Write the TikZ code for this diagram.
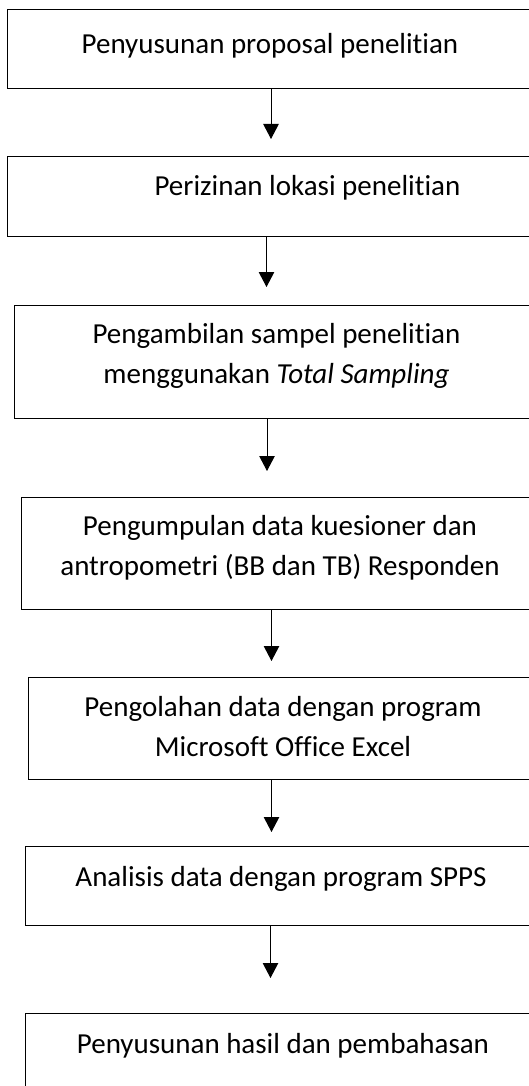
\documentclass[tikz,border=0pt]{standalone}
\usepackage{fontspec}
\setmainfont{Carlito}[Ligatures=CommonOff]
\usetikzlibrary{arrows.meta,positioning}

\begin{document}
\begin{tikzpicture}[x=1pt,y=-1pt,
    box/.style={draw, line width=1.2pt, anchor=north west, minimum width=700pt, inner sep=0pt},
    txt/.style={anchor=base, align=center, inner sep=0pt, font=\fontsize{29}{39.5}\selectfont},
    flow/.style={line width=1pt, -{Triangle[length=15pt,width=15.5pt]}}]
\useasboundingbox (0,0) rectangle (529,1086);
\clip (0,0) rectangle (529,1086);
% boxes
\node [box, minimum height=79pt] (b1) at (7,9) {};
\node [box, minimum height=80pt] (b2) at (7,156) {};
\node [box, minimum height=113pt] (b3) at (13.5,305) {};
\node [box, minimum height=112pt] (b4) at (21,497) {};
\node [box, minimum height=102pt] (b5) at (28,677) {};
\node [box, minimum height=79pt] (b6) at (25,846) {};
\node [box, minimum height=120pt] (b7) at (25,1013) {};
% texts (base = last line)
\node [txt] (t1) at (270,54) {Penyusunan proposal penelitian};
\node [txt] (t2) at (307.5,195) {Perizinan lokasi penelitian};
\node [txt] (t3) at (276.5,383) {Pengambilan sampel penelitian\\menggunakan \textit{Total Sampling}};
\node [txt] (t4) at (280,575) {Pengumpulan data kuesioner dan\\antropometri (BB dan TB) Responden};
\node [txt] (t5) at (283,756) {Pengolahan data dengan program\\Microsoft Office Excel};
\node [txt] (t6) at (281,886) {Analisis data dengan program SPPS};
\node [txt] (t7) at (283,1053) {Penyusunan hasil dan pembahasan};
% arrows
\coordinate (c1) at (271,0);
\coordinate (c2) at (266.5,0);
\coordinate (c3) at (267,0);
\coordinate (c4) at (271.5,0);
\coordinate (c5) at (271.5,0);
\coordinate (c6) at (270.5,0);
\draw [flow, shorten >=17pt] (b1.south -| c1) -- (b2.north -| c1);
\draw [flow, shorten >=18pt] (b2.south -| c2) -- (b3.north -| c2);
\draw [flow, shorten >=26pt] (b3.south -| c3) -- (b4.north -| c3);
\draw [flow, shorten >=16pt] (b4.south -| c4) -- (b5.north -| c4);
\draw [flow, shorten >=14pt] (b5.south -| c5) -- (b6.north -| c5);
\draw [flow, shorten >=35pt] (b6.south -| c6) -- (b7.north -| c6);
\end{tikzpicture}
\end{document}
